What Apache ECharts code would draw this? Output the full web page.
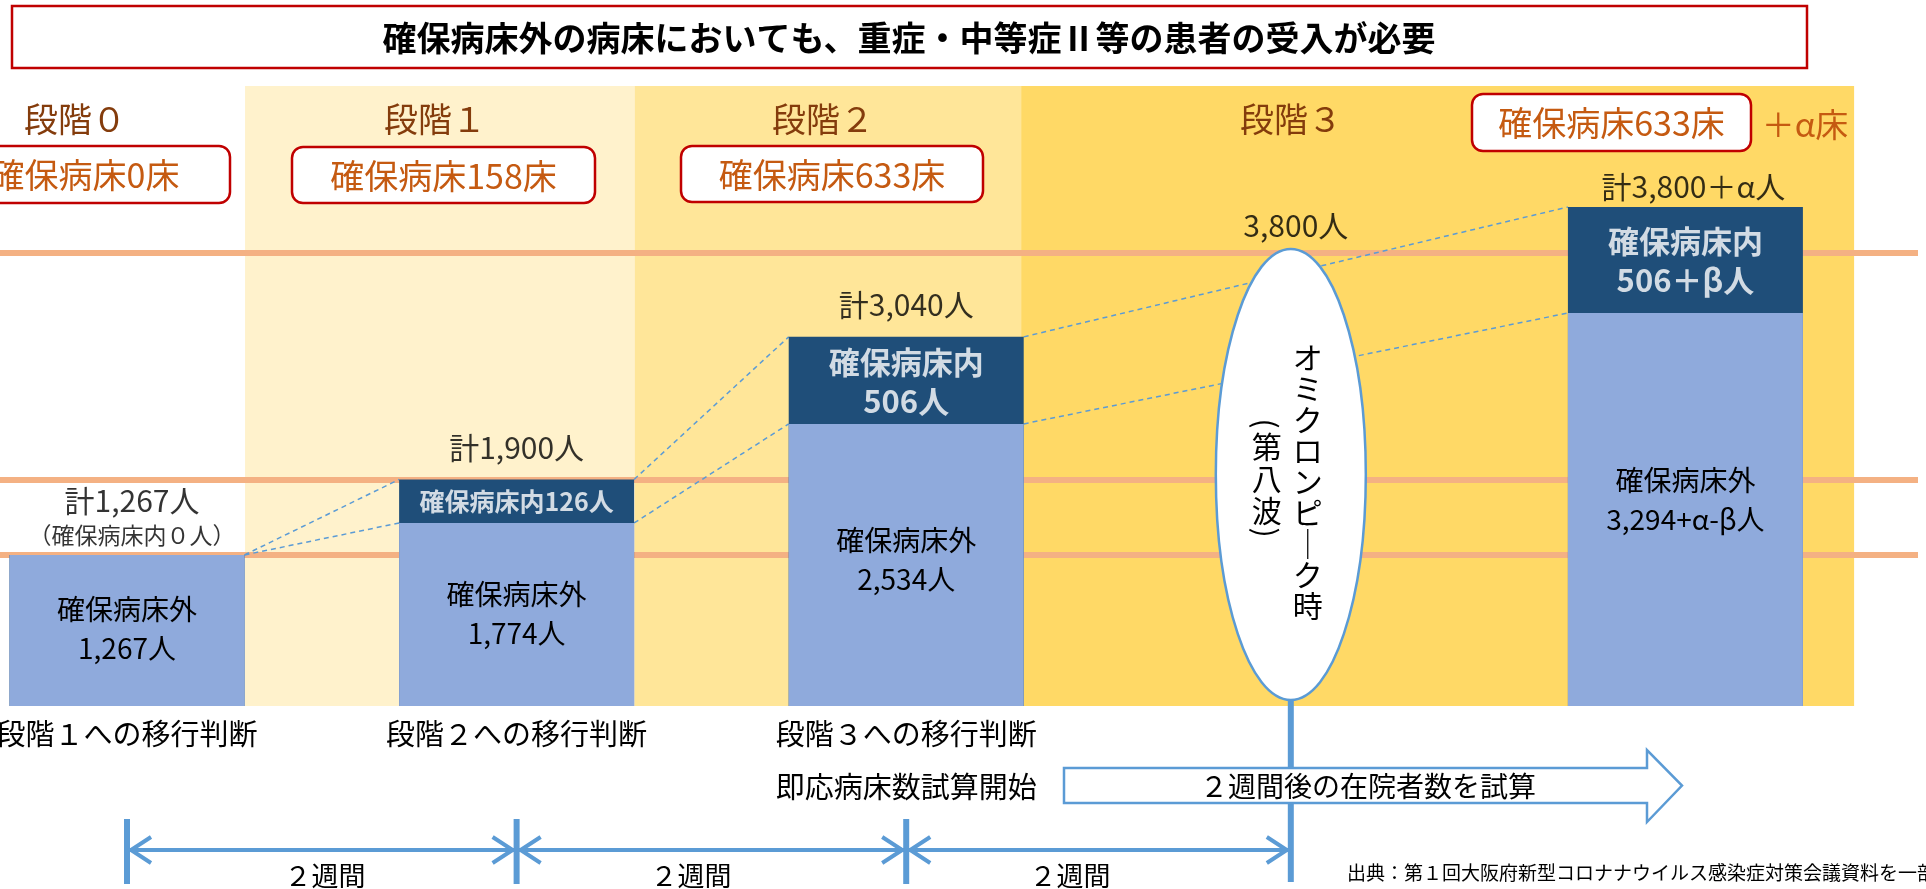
<!DOCTYPE html>
<html>
<head>
<meta charset="utf-8">
<script src="https://cdn.jsdelivr.net/npm/echarts@6/dist/echarts.min.js"></script>
<style>
  html, body { margin: 0; padding: 0; background: #fff; }
  #main { width: 1926px; height: 889px; }
</style>
</head>
<body>
<div id="main"></div>
<script>
const FONT = '"Noto Sans CJK JP", "Noto Sans", sans-serif';

const titleText = '確保病床外の病床においても、重症・中等症Ⅱ等の患者の受入が必要';
const stages = ['段階０', '段階１', '段階２', '段階３'];
const bedBoxes = ['確保病床0床', '確保病床158床', '確保病床633床', '確保病床633床'];
const bedExtra = '＋α床';

// bars sit on slots 0,1,2 and 4; slot 3 is the omicron peak
const barSlot = [0, 1, 2, 4];
const peakSlot = 3;
const peakValue = 3800;
const peakText = '3,800人';
const peakLabel = 'オミクロンピーク時';
const peakNote = '第八波';

// bar heights as drawn (schematic)
const outsideBar = [1267, 1535, 2366, 3296];
const insideBar = [0, 365, 730, 889];
const outsideText = ['確保病床外\n1,267人', '確保病床外\n1,774人', '確保病床外\n2,534人', '確保病床外\n3,294+α-β人'];
const insideText = ['', '確保病床内126人', '確保病床内\n506人', '確保病床内\n506＋β人'];
const totalText = ['計1,267人', '計1,900人', '計3,040人', '計3,800＋α人'];
const totalNote = ['（確保病床内０人）', '', '', ''];
const thresholdLines = [1267, 1900, 3800];
// connector lines between bars (index pairs)
const connectorPairs = [[0, 1], [1, 2], [2, 3]];

const judgeText = ['段階１への移行判断', '段階２への移行判断', '段階３への移行判断'];
const startText = '即応病床数試算開始';
const estimateText = '２週間後の在院者数を試算';
const weekText = ['２週間', '２週間', '２週間'];
const sourceText = '出典：第１回大阪府新型コロナナウイルス感染症対策会議資料を一部修正';

const chart = echarts.init(document.getElementById('main'));

const vertical = s => s.split('').map(c => (c === 'ー' ? '｜' : c)).join('\n');
const HALF_BAR = 117.5;
const total = i => outsideBar[i] + insideBar[i];

const option = {
  animation: false,
  backgroundColor: '#fff',
  grid: { left: 0, right: 8, top: 86, bottom: 183 },
  xAxis: { type: 'value', min: -0.326, max: 4.597, show: false },
  yAxis: { type: 'value', min: 0, max: 5200, show: false },
  series: [
    {
      // stage background bands
      type: 'line', data: [], z: 0, silent: true,
      markArea: {
        silent: true, z: 0,
        data: [
          [{ xAxis: 0.303, yAxis: 0, itemStyle: { color: '#FFF2CC' } }, { xAxis: 1.303, yAxis: 5200 }],
          [{ xAxis: 1.303, yAxis: 0, itemStyle: { color: '#FFE699' } }, { xAxis: 2.295, yAxis: 5200 }],
          [{ xAxis: 2.295, yAxis: 0, itemStyle: { color: '#FFD966' } }, { xAxis: 4.433, yAxis: 5200 }]
        ]
      }
    },
    {
      type: 'line', data: [], z: 1, silent: true,
      markLine: {
        silent: true, symbol: 'none', z: 1,
        label: { show: false },
        lineStyle: { color: '#F4B183', width: 6, type: 'solid' },
        data: thresholdLines.map(v => ({ yAxis: v }))
      }
    },
    {
      type: 'custom', z: 3, silent: true,
      data: connectorPairs.map((p, i) => [i, 0]),
      renderItem(params, api) {
        const [a, b] = connectorPairs[params.dataIndex];
        const aTop = api.coord([barSlot[a], total(a)]);
        const aMid = api.coord([barSlot[a], outsideBar[a]]);
        const bTop = api.coord([barSlot[b], total(b)]);
        const bMid = api.coord([barSlot[b], outsideBar[b]]);
        const style = { stroke: '#5B9BD5', lineWidth: 1.5, lineDash: [5, 4], fill: null };
        return {
          type: 'group',
          children: [
            { type: 'line', shape: { x1: aTop[0] + HALF_BAR, y1: aTop[1], x2: bTop[0] - HALF_BAR, y2: bTop[1] }, style },
            { type: 'line', shape: { x1: aMid[0] + HALF_BAR, y1: aMid[1], x2: bMid[0] - HALF_BAR, y2: bMid[1] }, style }
          ]
        };
      }
    },
    {
      // full bar (in-bed part shows above the outside part)
      type: 'bar', barWidth: 235, barGap: '-100%', z: 4, silent: true,
      itemStyle: { color: '#1F4E79' },
      data: barSlot.map((x, i) => [x, total(i)])
    },
    {
      type: 'bar', barWidth: 235, barGap: '-100%', z: 4, silent: true,
      itemStyle: { color: '#8FAADC' },
      label: {
        show: true, position: 'inside', color: '#000', fontFamily: FONT,
        fontSize: 28, lineHeight: 39,
        formatter: p => outsideText[p.dataIndex]
      },
      data: barSlot.map((x, i) => ({
        value: [x, outsideBar[i]],
        label: { offset: [0, [-2, -1, -5, -10][i]] }
      }))
    },
    {
      // labels of the in-bed segment, at its middle
      type: 'scatter', z: 6, silent: true, symbolSize: 1,
      itemStyle: { color: 'transparent' },
      label: {
        show: true, position: 'inside', color: '#fff', fontFamily: FONT,
        fontWeight: 'bold', fontSize: 31, lineHeight: 39,
        formatter: p => insideText[p.dataIndex]
      },
      data: barSlot.map((x, i) => ({
        value: [x, outsideBar[i] + insideBar[i] / 2],
        label: i === 0 ? { show: false } : (i === 1 ? { fontSize: 25 } : { offset: [0, 1] })
      }))
    },
    {
      type: 'scatter', z: 6, silent: true, symbolSize: 1,
      itemStyle: { color: 'transparent' },
      label: {
        show: true, position: 'inside', color: '#000', fontFamily: FONT, fontSize: 30,
        formatter: p => p.data.text,
        rich: {
          a: { fontFamily: FONT, fontSize: 30, lineHeight: 35, color: '#000' },
          b: { fontFamily: FONT, fontSize: 23, lineHeight: 35, color: '#000' }
        }
      },
      data: barSlot.map((x, i) => ({
        value: [x, total(i)],
        text: totalNote[i] ? '{a|' + totalText[i] + '}\n{b|' + totalNote[i] + '}' : totalText[i],
        label: { offset: [[5, 0, 0, 8][i], [-37, -32, -32, -20][i]] }
      })).concat([{
        value: [peakSlot, peakValue], text: peakText, label: { offset: [0, -27] }
      }])
    },
    {
      type: 'custom', z: 7, silent: true,
      data: [[peakSlot, peakValue]],
      renderItem(params, api) {
        const top = api.coord([api.value(0), api.value(1)]);
        const base = api.coord([api.value(0), 0]);
        const cx = top[0] - 5;
        const y0 = top[1] - 4, y1 = base[1] - 6;
        const cy = (y0 + y1) / 2, ry = (y1 - y0) / 2;
        const note = (s, y) => ({
          type: 'text', x: cx - 24, y, rotation: -Math.PI / 2,
          style: { text: s, fill: '#000', fontFamily: FONT, fontSize: 30, align: 'center', verticalAlign: 'middle' }
        });
        return {
          type: 'group',
          children: [
            { type: 'ellipse', shape: { cx, cy, rx: 75, ry }, style: { fill: '#fff', stroke: '#5B9BD5', lineWidth: 2.5 } },
            {
              type: 'text', x: cx + 17, y: cy + 7,
              style: {
                text: vertical(peakLabel), fill: '#000', fontFamily: FONT, fontSize: 30, lineHeight: 31,
                align: 'center', verticalAlign: 'middle'
              }
            },
            {
              type: 'text', x: cx - 24, y: cy + 4,
              style: {
                text: vertical(peakNote), fill: '#000', fontFamily: FONT, fontSize: 30, lineHeight: 32,
                align: 'center', verticalAlign: 'middle'
              }
            },
            note('(', cy - 51),
            note(')', cy + 58)
          ]
        };
      }
    }
  ]
};

chart.setOption(option);

// annotations (titles, boxes, timeline) positioned off the axis
const px = (x, y) => chart.convertToPixel({ gridIndex: 0 }, [x, y]);
const BLUE = '#5B9BD5';
const text = (x, y, s, size, extra) => ({
  type: 'text', x, y, z: 100,
  style: Object.assign({
    text: s, fill: '#000', fontFamily: FONT, fontSize: size,
    align: 'center', verticalAlign: 'middle'
  }, extra || {})
});
const line = (x1, y1, x2, y2, w) => ({
  type: 'line', z: 100,
  shape: { x1, y1, x2, y2 },
  style: { stroke: BLUE, lineWidth: w }
});

const g = [];
g.push({ type: 'rect', z: 100, shape: { x: 12, y: 6, width: 1795, height: 62 }, style: { fill: '#fff', stroke: '#C00000', lineWidth: 2.5 } });
g.push(text(909, 38, titleText, 34, { fontWeight: 'bold' }));

const stageX = [75, 435, 823, 1291];
stages.forEach((s, i) => g.push(text(stageX[i], 119, s, 34, { fill: '#843C0C' })));

const boxes = [
  { x: -60, y: 146, w: 290, h: 57 },
  { x: 292, y: 147, w: 303, h: 56 },
  { x: 681, y: 146, w: 302, h: 56 },
  { x: 1472, y: 94, w: 279, h: 57 }
];
boxes.forEach((b, i) => {
  g.push({ type: 'rect', z: 100, shape: { x: b.x, y: b.y, width: b.w, height: b.h, r: 11 }, style: { fill: '#fff', stroke: '#C00000', lineWidth: 2.5 } });
  g.push(text(b.x + b.w / 2, b.y + b.h / 2 + 1, bedBoxes[i], 34, { fill: '#C55A11' }));
});
g.push(text(1805, 124, bedExtra, 33, { fill: '#C55A11' }));

// judgement labels under bars
judgeText.forEach((s, i) => g.push(text(px(barSlot[i], 0)[0], 734, s, 29)));
g.push(text(px(barSlot[2], 0)[0], 787, startText, 29));

// timeline
const ticks = [0, 1, 2, peakSlot].map(s => px(s, 0)[0]);
const ty = 850;
const peakX = ticks[3] - 5;
g.push(line(ticks[0], ty, peakX, ty, 4));
ticks.slice(0, 3).forEach(x => g.push(line(x, 819, x, 884, 6)));
g.push(line(peakX, 700, peakX, 882, 6));
const ends = [ticks[0], ticks[1], ticks[2], peakX];
for (let i = 0; i < 3; i++) {
  const a = ends[i], b = ends[i + 1];
  g.push({ type: 'polyline', z: 100, shape: { points: [[a + 24, ty - 13], [a + 4, ty], [a + 24, ty + 13]] }, style: { stroke: BLUE, lineWidth: 4, fill: null } });
  g.push({ type: 'polyline', z: 100, shape: { points: [[b - 24, ty - 13], [b - 4, ty], [b - 24, ty + 13]] }, style: { stroke: BLUE, lineWidth: 4, fill: null } });
}
const weekX = [325, 691, 1070];
weekText.forEach((s, i) => g.push(text(weekX[i], 876, s, 27)));

// block arrow
g.push({
  type: 'polygon', z: 101,
  shape: { points: [[1064, 768], [1647, 768], [1647, 750], [1682, 785.5], [1647, 822], [1647, 803], [1064, 803]] },
  style: { fill: '#fff', stroke: BLUE, lineWidth: 2.5 }
});
g.push(Object.assign(text(1368, 786, estimateText, 28), { z: 102 }));

g.push(text(1347, 873, sourceText, 19, { align: 'left' }));

chart.setOption({ graphic: { elements: g } });
</script>
</body>
</html>
